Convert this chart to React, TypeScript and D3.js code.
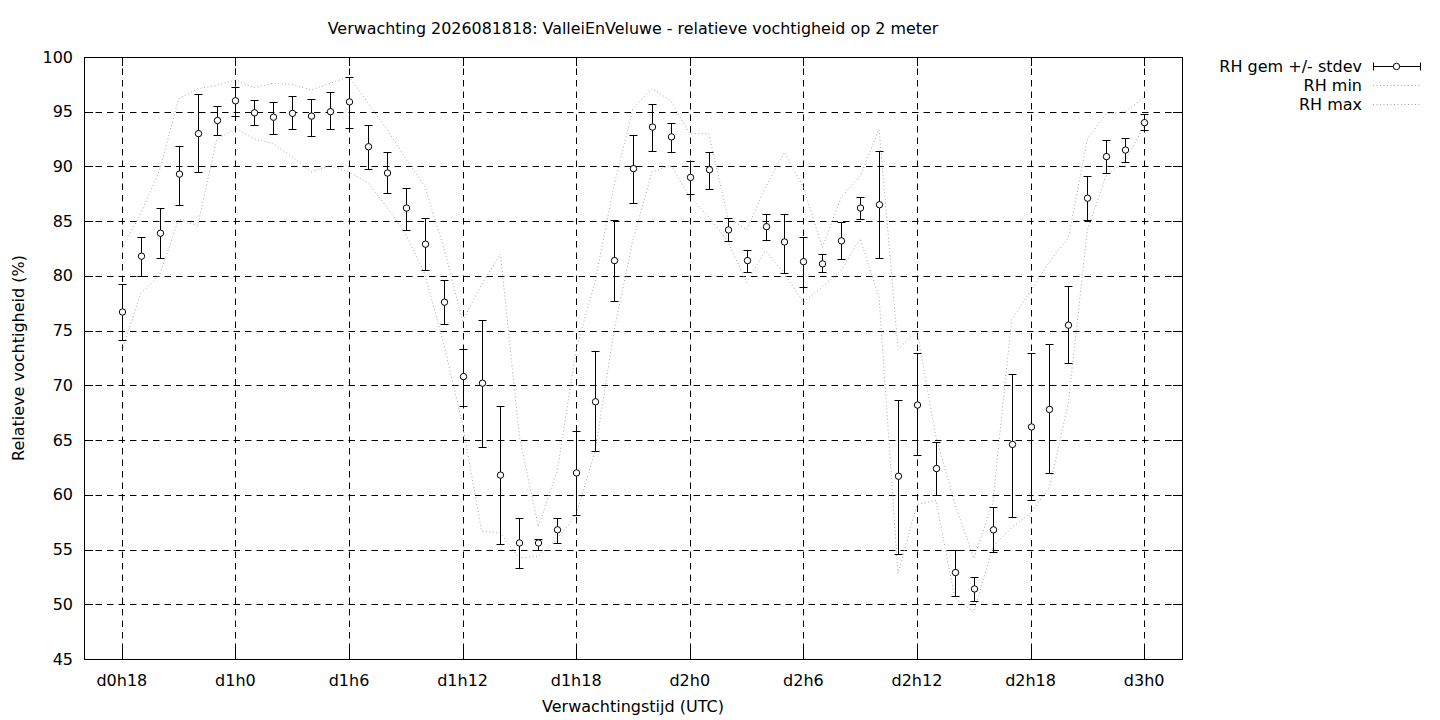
import React, { useEffect, useRef } from "react";
import * as d3 from "d3";

// forecast hours since d0h0
const hours = [
  18, 19, 20, 21, 22, 23, 24, 25, 26, 27, 28, 29, 30, 31, 32, 33, 34, 35, 36,
  37, 38, 39, 40, 41, 42, 43, 44, 45, 46, 47, 48, 49, 50, 51, 52, 53, 54, 55,
  56, 57, 58, 59, 60, 61, 62, 63, 64, 65, 66, 67, 68, 69, 70, 71, 72,
];

const rhMean = [
  76.7, 81.8, 83.9, 89.3, 93.0, 94.2, 96.0, 94.9, 94.5, 94.85, 94.6, 95.0, 95.9,
  91.8, 89.4, 86.2, 82.9, 77.6, 70.8, 70.2, 61.8, 55.6, 55.6, 56.8, 62.0, 68.5,
  81.4, 89.8, 93.6, 92.7, 89.0, 89.7, 84.2, 81.4, 84.5, 83.1, 81.3, 81.1, 83.2,
  86.2, 86.5, 61.7, 68.2, 62.4, 52.9, 51.4, 56.8, 64.6, 66.2, 67.8, 75.5, 87.1,
  90.9, 91.5, 94.0,
];

const rhLow = [
  74.1, 80.0, 81.6, 86.5, 89.5, 92.9, 94.6, 93.8, 93.0, 93.4, 92.8, 93.4, 93.5,
  89.8, 87.6, 84.2, 80.5, 75.6, 68.1, 64.4, 55.5, 53.3, 55.0, 55.6, 58.2, 64.0,
  77.7, 86.7, 91.4, 91.3, 87.5, 87.9, 83.2, 80.4, 83.3, 80.3, 79.0, 80.4, 81.5,
  85.2, 81.6, 54.6, 63.6, 60.0, 50.8, 50.3, 54.8, 58.0, 59.5, 62.0, 72.0, 85.1,
  89.4, 90.4, 93.3,
];

const rhHigh = [
  79.3, 83.6, 86.2, 91.9, 96.6, 95.5, 97.3, 96.1, 95.9, 96.4, 96.2, 96.8, 98.2,
  93.8, 91.3, 88.0, 85.3, 79.6, 73.3, 76.0, 68.1, 57.9, 56.0, 57.9, 65.8, 73.1,
  85.1, 92.9, 95.7, 94.0, 90.5, 91.3, 85.3, 82.4, 85.7, 85.7, 83.6, 82.0, 84.9,
  87.2, 91.4, 68.7, 73.0, 64.8, 55.0, 52.5, 58.9, 71.0, 73.0, 73.8, 79.1, 89.1,
  92.4, 92.6, 94.8,
];

const rhMin = [
  73.2, 78.4, 80.1, 85.2, 84.6, 92.4, 93.5, 92.5, 92.1, 90.9, 89.5, 90.1, 89.5,
  88.5, 86.3, 83.8, 80.2, 73.8, 66.4, 56.7, 56.5, 54.2, 54.4, 56.0, 58.2, 64.0,
  75.0, 83.3, 89.5, 90.1, 87.2, 85.4, 83.2, 79.4, 82.3, 80.2, 77.6, 79.0, 80.5,
  83.4, 78.0, 52.8, 59.1, 59.5, 50.6, 49.3, 55.2, 57.0, 58.3, 60.7, 68.4, 84.2,
  89.2, 90.5, 93.7,
];

const rhMax = [
  82.5, 85.7, 89.7, 96.2, 97.1, 97.4, 97.9, 97.2, 97.6, 97.5, 97.0, 97.6, 98.2,
  95.8, 93.4, 90.7, 88.2, 82.6, 75.9, 79.2, 82.0, 65.3, 57.1, 62.2, 73.3, 79.5,
  88.3, 95.3, 97.1, 96.0, 93.0, 93.0, 85.4, 84.2, 88.1, 91.3, 88.1, 82.6, 87.2,
  89.1, 93.4, 73.3, 75.0, 65.3, 59.2, 54.2, 59.2, 76.0, 78.6, 81.3, 83.5, 92.5,
  94.8, 95.0, 96.3,
];

const xTickHours = [18, 24, 30, 36, 42, 48, 54, 60, 66, 72];
const xTickLabels = ["d0h18", "d1h0", "d1h6", "d1h12", "d1h18", "d2h0", "d2h6", "d2h12", "d2h18", "d3h0"];
const yTicks = [45, 50, 55, 60, 65, 70, 75, 80, 85, 90, 95, 100];

const legendLabels = ["RH gem +/- stdev", "RH min", "RH max"];

export default function App() {
  const svgRef = useRef<SVGSVGElement | null>(null);

  useEffect(() => {
    const svg = d3.select(svgRef.current);
    svg.selectAll("*").remove();

    const left = 84, right = 1182, top = 57, bottom = 659;
    const font = "DejaVu Sans, sans-serif";

    const x = d3.scaleLinear().domain([16, 74]).range([left, right]);
    const y = d3.scaleLinear().domain([45, 100]).range([bottom, top]);
    const px = (v: number) => Math.round(x(v)) + 0.5;
    const py = (v: number) => Math.round(y(v)) + 0.5;

    // grid
    const grid = svg.append("g").attr("stroke", "#000").attr("stroke-width", 1).attr("stroke-dasharray", "6.5,5");
    xTickHours.forEach(h => {
      grid.append("line").attr("x1", px(h)).attr("x2", px(h)).attr("y1", top).attr("y2", bottom);
    });
    yTicks.forEach(v => {
      grid.append("line").attr("x1", left).attr("x2", right).attr("y1", py(v)).attr("y2", py(v));
    });

    // ticks (mirrored, inward)
    const ticks = svg.append("g").attr("stroke", "#000").attr("stroke-width", 1);
    xTickHours.forEach(h => {
      ticks.append("line").attr("x1", px(h)).attr("x2", px(h)).attr("y1", bottom).attr("y2", bottom - 9);
      ticks.append("line").attr("x1", px(h)).attr("x2", px(h)).attr("y1", top).attr("y2", top + 9);
    });
    yTicks.forEach(v => {
      ticks.append("line").attr("x1", left).attr("x2", left + 9).attr("y1", py(v)).attr("y2", py(v));
      ticks.append("line").attr("x1", right).attr("x2", right - 9).attr("y1", py(v)).attr("y2", py(v));
    });

    // border
    svg.append("rect")
      .attr("x", left + 0.5).attr("y", top + 0.5)
      .attr("width", right - left).attr("height", bottom - top)
      .attr("fill", "none").attr("stroke", "#000").attr("stroke-width", 1);

    // tick labels
    svg.append("g").selectAll("text")
      .data(yTicks)
      .enter()
      .append("text")
      .attr("x", 73)
      .attr("y", d => y(d) + 5.5)
      .attr("text-anchor", "end")
      .attr("font-family", font)
      .attr("font-size", "16px")
      .text(d => d);

    svg.append("g").selectAll("text")
      .data(xTickHours)
      .enter()
      .append("text")
      .attr("x", d => x(d))
      .attr("y", 686)
      .attr("text-anchor", "middle")
      .attr("font-family", font)
      .attr("font-size", "16px")
      .text((d, i) => xTickLabels[i]);

    // min / max dotted lines
    const line = d3.line<number>().x((d, i) => x(hours[i])).y(d => y(d));
    [rhMin, rhMax].forEach(series => {
      svg.append("path")
        .attr("d", line(series))
        .attr("fill", "none")
        .attr("stroke", "#a6a6a6")
        .attr("stroke-width", 1)
        .attr("stroke-dasharray", "1,2.5");
    });

    // error bars
    const bars = svg.append("g").attr("stroke", "#000").attr("stroke-width", 1);
    hours.forEach((h, i) => {
      const cx = px(h);
      const lo = py(rhLow[i]);
      const hi = py(rhHigh[i]);
      bars.append("line").attr("x1", cx).attr("x2", cx).attr("y1", lo).attr("y2", hi);
      bars.append("line").attr("x1", cx - 4).attr("x2", cx + 4).attr("y1", lo).attr("y2", lo);
      bars.append("line").attr("x1", cx - 4).attr("x2", cx + 4).attr("y1", hi).attr("y2", hi);
    });
    svg.append("g").selectAll("circle")
      .data(rhMean)
      .enter()
      .append("circle")
      .attr("cx", (d, i) => px(hours[i]))
      .attr("cy", d => y(d))
      .attr("r", 3.2)
      .attr("fill", "#fff")
      .attr("stroke", "#000")
      .attr("stroke-width", 1);

    // title and axis labels
    svg.append("text")
      .attr("x", 633).attr("y", 34)
      .attr("text-anchor", "middle")
      .attr("font-family", font).attr("font-size", "15.9px")
      .text("Verwachting 2026081818: ValleiEnVeluwe - relatieve vochtigheid op 2 meter");
    svg.append("text")
      .attr("x", 633).attr("y", 712)
      .attr("text-anchor", "middle")
      .attr("font-family", font).attr("font-size", "16px")
      .text("Verwachtingstijd (UTC)");
    svg.append("text")
      .attr("transform", "translate(24,358) rotate(-90)")
      .attr("text-anchor", "middle")
      .attr("font-family", font).attr("font-size", "16px")
      .text("Relatieve vochtigheid (%)");

    // legend
    const lg = svg.append("g");
    legendLabels.forEach((label, i) => {
      const ly = 66 + i * 19;
      lg.append("text")
        .attr("x", 1362).attr("y", ly + 5.5)
        .attr("text-anchor", "end")
        .attr("font-family", font).attr("font-size", "16px")
        .text(label);
      if (i === 0) {
        lg.append("line").attr("x1", 1373).attr("x2", 1420).attr("y1", ly + 0.5).attr("y2", ly + 0.5)
          .attr("stroke", "#000").attr("stroke-width", 1);
        [1373.5, 1420.5].forEach(ex => {
          lg.append("line").attr("x1", ex).attr("x2", ex).attr("y1", ly - 3.5).attr("y2", ly + 4.5)
            .attr("stroke", "#000").attr("stroke-width", 1);
        });
        lg.append("circle").attr("cx", 1396.5).attr("cy", ly + 0.5).attr("r", 3.2)
          .attr("fill", "#fff").attr("stroke", "#000");
      } else {
        lg.append("line").attr("x1", 1373).attr("x2", 1420).attr("y1", ly + 0.5).attr("y2", ly + 0.5)
          .attr("stroke", "#a6a6a6").attr("stroke-width", 1).attr("stroke-dasharray", "1,2.5");
      }
    });
  }, []);

  return (
    <svg
      ref={svgRef}
      width={1440}
      height={720}
      style={{ position: "absolute", left: 0, top: 0, background: "#fff" }}
    ></svg>
  );
}
